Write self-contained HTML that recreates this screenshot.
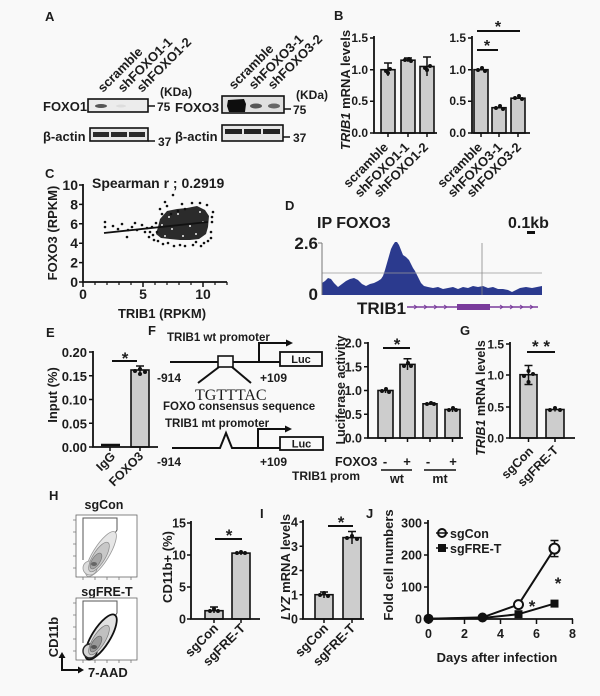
<!DOCTYPE html>
<html><head><meta charset="utf-8">
<style>
html,body{margin:0;padding:0;background:#f9f9f9;}
svg{display:block;}
text{font-family:"Liberation Sans",Arial,sans-serif;font-weight:bold;fill:#1c1c1c;}
.bar{fill:#cdcdcd;stroke:#111;stroke-width:1.6;}
.ax{stroke:#111;stroke-width:1.8;fill:none;}
.eb{stroke:#111;stroke-width:1.5;fill:none;}
.tk{stroke:#111;stroke-width:1.5;}
.thin{stroke:#111;stroke-width:2;fill:none;}
</style></head><body>
<svg width="600" height="696" viewBox="0 0 600 696" xmlns="http://www.w3.org/2000/svg">

<!-- ===== Panel A ===== -->
<text x="45" y="21" font-size="13">A</text>
<g font-size="13">
<text transform="translate(103,93) rotate(-45)">scramble</text>
<text transform="translate(123,93) rotate(-45)">shFOXO1-1</text>
<text transform="translate(142,93) rotate(-45)">shFOXO1-2</text>
<text transform="translate(234,90) rotate(-45)">scramble</text>
<text transform="translate(254,90) rotate(-45)">shFOXO3-1</text>
<text transform="translate(273,90) rotate(-45)">shFOXO3-2</text>
</g>
<text x="160" y="96" font-size="12">(KDa)</text>
<text x="296" y="99" font-size="12">(KDa)</text>
<text x="43" y="111" font-size="13">FOXO1</text>
<rect x="88" y="99" width="60" height="13" fill="#ececec" stroke="#111" stroke-width="1.6"/>
<ellipse cx="101" cy="106" rx="6" ry="2" fill="#555"/>
<ellipse cx="121" cy="106" rx="5" ry="1.5" fill="#ddd"/>
<line x1="148" y1="106" x2="155" y2="106" class="tk"/>
<text x="157" y="111" font-size="12">75</text>
<text x="43" y="141" font-size="13">β-actin</text>
<rect x="90" y="128" width="58" height="13" fill="#e8e8e8" stroke="#111" stroke-width="1.6"/>
<rect x="93" y="132" width="16" height="5" fill="#2a2a2a"/>
<rect x="111" y="132" width="16" height="5" fill="#2a2a2a"/>
<rect x="129" y="132" width="16" height="5" fill="#2a2a2a"/>
<line x1="148" y1="141" x2="155" y2="141" class="tk"/>
<text x="158" y="146" font-size="12">37</text>

<text x="175" y="112" font-size="13">FOXO3</text>
<rect x="222" y="96" width="62" height="17" fill="#e0e0e0" stroke="#111" stroke-width="1.6"/>
<path d="M228,100 L244,99 L246,104 L245,112 L229,112 L227,106 Z" fill="#0e0e0e"/>
<ellipse cx="256" cy="106" rx="6" ry="2.5" fill="#555"/>
<ellipse cx="274" cy="106" rx="6" ry="2.5" fill="#666"/>
<line x1="284" y1="109" x2="291" y2="109" class="tk"/>
<text x="293" y="114" font-size="12">75</text>
<text x="175" y="141" font-size="13">β-actin</text>
<rect x="222" y="125" width="61" height="16" fill="#e6e6e6" stroke="#111" stroke-width="1.6"/>
<rect x="225" y="129" width="17" height="5" fill="#222"/>
<rect x="244" y="129" width="17" height="5" fill="#222"/>
<rect x="263" y="129" width="17" height="5" fill="#222"/>
<line x1="283" y1="137" x2="290" y2="137" class="tk"/>
<text x="293" y="142" font-size="12">37</text>

<!-- ===== Panel B ===== -->
<text x="334" y="20" font-size="13">B</text>
<text transform="translate(350,90) rotate(-90)" text-anchor="middle" font-size="13"><tspan font-style="italic">TRIB1</tspan> mRNA levels</text>
<g font-size="12" text-anchor="end">
<text x="368" y="42">1.5</text><text x="368" y="74">1.0</text><text x="368" y="105">0.5</text><text x="368" y="137">0.0</text>
<text x="466" y="42">1.5</text><text x="466" y="74">1.0</text><text x="466" y="105">0.5</text><text x="466" y="137">0.0</text>
</g>
<rect x="381" y="69.7" width="14" height="63.3" class="bar"/>
<rect x="401" y="60.2" width="14" height="72.8" class="bar"/>
<rect x="420" y="66.5" width="14" height="66.5" class="bar"/>
<path d="M388,63 V76 M384,63 H392 M427,57 V76 M423,57 H431 M408,58 V62 M404,58 H412" class="eb"/>
<g fill="#111"><circle cx="386" cy="71" r="2"/><circle cx="390" cy="69" r="2"/><circle cx="388" cy="73" r="2"/>
<circle cx="405" cy="60" r="2"/><circle cx="409" cy="59" r="2"/><circle cx="411" cy="61" r="2"/>
<circle cx="425" cy="68" r="2"/><circle cx="430" cy="66" r="2"/><circle cx="427" cy="70" r="2"/></g>
<path d="M374,36 V133 H437" class="ax"/>
<path d="M370,38 H374 M370,69.7 H374 M370,101.3 H374 M370,133 H374 M388,133 V137 M408,133 V137 M427,133 V137" class="tk"/>

<rect x="474" y="69.7" width="14" height="63.3" class="bar"/>
<rect x="492" y="107.7" width="14" height="25.3" class="bar"/>
<rect x="511" y="98.2" width="14" height="34.8" class="bar"/>
<g fill="#111"><circle cx="478" cy="70" r="2"/><circle cx="482" cy="68" r="2"/><circle cx="485" cy="71" r="2"/>
<circle cx="496" cy="108" r="2"/><circle cx="500" cy="106" r="2"/><circle cx="503" cy="109" r="2"/>
<circle cx="515" cy="98" r="2"/><circle cx="519" cy="96" r="2"/><circle cx="522" cy="99" r="2"/></g>
<path d="M472,36 V133 H530" class="ax"/>
<path d="M468,38 H472 M468,69.7 H472 M468,101.3 H472 M468,133 H472 M481,133 V137 M499,133 V137 M518,133 V137" class="tk"/>
<path d="M477,50 H498 M477,31 H520" class="thin"/>
<text x="487" y="51" font-size="16" text-anchor="middle">*</text>
<text x="498" y="32" font-size="16" text-anchor="middle">*</text>
<g font-size="13" text-anchor="end">
<text transform="translate(389,148) rotate(-45)">scramble</text>
<text transform="translate(410,148) rotate(-45)">shFOXO1-1</text>
<text transform="translate(429,148) rotate(-45)">shFOXO1-2</text>
<text transform="translate(483,148) rotate(-45)">scramble</text>
<text transform="translate(503,148) rotate(-45)">shFOXO3-1</text>
<text transform="translate(522,148) rotate(-45)">shFOXO3-2</text>
</g>

<!-- ===== Panel C ===== -->
<text x="45" y="178" font-size="13">C</text>
<text x="92" y="188" font-size="14">Spearman r ; 0.2919</text>
<text transform="translate(57,233) rotate(-90)" text-anchor="middle" font-size="13">FOXO3 (RPKM)</text>
<g font-size="14" text-anchor="end">
<text x="78" y="190">10</text><text x="78" y="209.4">8</text><text x="78" y="228.8">6</text><text x="78" y="248.2">4</text><text x="78" y="267.6">2</text><text x="78" y="287">0</text>
</g>
<g font-size="14" text-anchor="middle"><text x="83" y="299">0</text><text x="143" y="299">5</text><text x="203" y="299">10</text></g>
<text x="162" y="318" font-size="13" text-anchor="middle">TRIB1 (RPKM)</text>
<path d="M160,219 L167,211 L177,209 L187,208 L197,206 L205,210 L209,216 L208,227 L206,234 L199,239 L190,240 L180,240 L170,239 L161,238 L156,234 L158,227 Z" fill="#2b2b2b"/>
<g fill="#f0f0f0">
<circle cx="165" cy="236" r="1"/><circle cx="172" cy="229" r="1"/><circle cx="183" cy="236" r="1"/><circle cx="196" cy="234" r="1"/>
<circle cx="203" cy="222" r="1"/><circle cx="178" cy="214" r="1"/><circle cx="162" cy="225" r="1"/><circle cx="190" cy="226" r="1"/>
<circle cx="200" cy="212" r="1"/><circle cx="169" cy="217" r="1"/>
</g>
<g fill="#111">
<circle cx="105" cy="222" r="1.3"/><circle cx="105" cy="227" r="1.3"/><circle cx="113" cy="226" r="1.3"/><circle cx="122" cy="224" r="1.3"/>
<circle cx="128" cy="230" r="1.3"/><circle cx="127" cy="237" r="1.3"/><circle cx="135" cy="223" r="1.3"/><circle cx="137" cy="230" r="1.3"/>
<circle cx="142" cy="225" r="1.3"/><circle cx="147" cy="228" r="1.3"/><circle cx="152" cy="227" r="1.3"/><circle cx="153" cy="235" r="1.3"/>
<circle cx="157" cy="232" r="1.3"/><circle cx="165" cy="202" r="1.3"/><circle cx="173" cy="195" r="1.3"/><circle cx="167" cy="206" r="1.3"/>
<circle cx="178" cy="211" r="1.3"/><circle cx="185" cy="209" r="1.3"/><circle cx="200" cy="203" r="1.3"/><circle cx="207" cy="205" r="1.3"/>
<circle cx="212" cy="222" r="1.3"/><circle cx="211" cy="232" r="1.3"/><circle cx="204" cy="243" r="1.3"/><circle cx="193" cy="245" r="1.3"/>
<circle cx="180" cy="245" r="1.3"/><circle cx="168" cy="243" r="1.3"/><circle cx="158" cy="241" r="1.3"/><circle cx="149" cy="237" r="1.3"/>
<circle cx="150" cy="232" r="1.3"/><circle cx="162" cy="214" r="1.3"/><circle cx="171" cy="214" r="1.3"/><circle cx="192" cy="203" r="1.3"/>
<circle cx="213" cy="212" r="1.3"/><circle cx="211" cy="238" r="1.3"/><circle cx="185" cy="246" r="1.3"/><circle cx="174" cy="246" r="1.3"/>
<circle cx="118" cy="229" r="1.3"/><circle cx="132" cy="227" r="1.3"/><circle cx="145" cy="232" r="1.3"/><circle cx="156" cy="223" r="1.3"/>
<circle cx="160" cy="209" r="1.3"/><circle cx="196" cy="242" r="1.3"/><circle cx="208" cy="241" r="1.3"/><circle cx="212" cy="217" r="1.3"/>
<circle cx="182" cy="204" r="1.3"/><circle cx="154" cy="240" r="1.3"/><circle cx="163" cy="244" r="1.3"/><circle cx="201" cy="246" r="1.3"/>
</g>
<line x1="104" y1="233" x2="208" y2="222" stroke="#111" stroke-width="1.8"/>
<path d="M83,184 V282 H227" class="ax"/>
<path d="M79,185 H83 M79,204.4 H83 M79,223.8 H83 M79,243.2 H83 M79,262.6 H83 M79,282 H83 M83,282 V287 M143,282 V287 M203,282 V287" class="tk"/>
<path d="M95,282 V285 M107,282 V285 M119,282 V285 M131,282 V285 M155,282 V285 M167,282 V285 M179,282 V285 M191,282 V285 M215,282 V285 M227,282 V285" stroke="#111" stroke-width="1.2"/>

<!-- ===== Panel D ===== -->
<text x="285" y="210" font-size="13">D</text>
<text x="317" y="228" font-size="16">IP FOXO3</text>
<text x="508" y="228" font-size="16">0.1kb</text>
<rect x="527" y="231" width="8" height="3" fill="#111"/>
<text x="318" y="249" font-size="17" text-anchor="end">2.6</text>
<text x="318" y="300" font-size="17" text-anchor="end">0</text>
<path d="M322,295 L322,283 L325,281 L328,278 L331,279 L334,283 L338,287 L342,284 L346,281 L350,279 L354,278 L358,280 L362,284 L366,286 L370,284 L374,283 L378,281 L381,279 L383,276 L385,270 L387,263 L389,256 L391,249 L393,245 L395,242 L397,242 L399,245 L401,250 L403,255 L406,257 L409,260 L411,264 L413,268 L415,271 L417,275 L419,279 L421,283 L424,286 L428,287 L433,288 L438,287 L443,289 L448,288 L453,287 L458,289 L463,287 L468,288 L473,286 L478,287 L483,286 L488,288 L493,287 L498,289 L503,289 L508,290 L512,292 L516,290 L520,288 L526,287 L532,288 L537,287 L542,286 L542,295 Z" fill="#2b3a8e"/>
<line x1="322" y1="273" x2="542" y2="273" stroke="#999" stroke-width="0.8"/>
<line x1="482" y1="243" x2="482" y2="295" stroke="#888" stroke-width="0.8"/>
<line x1="322" y1="243" x2="322" y2="295" stroke="#777" stroke-width="1"/>
<line x1="318" y1="243" x2="322" y2="243" stroke="#777" stroke-width="1"/>
<text x="357" y="314" font-size="17">TRIB1</text>
<line x1="407" y1="307" x2="538" y2="307" stroke="#7a3c9c" stroke-width="1.6"/>
<rect x="457" y="304" width="33" height="6" fill="#7a3c9c"/>
<path d="M414,305 L417,307 L414,309 M424,305 L427,307 L424,309 M434,305 L437,307 L434,309 M444,305 L447,307 L444,309 M500,305 L503,307 L500,309 M510,305 L513,307 L510,309 M520,305 L523,307 L520,309 M530,305 L533,307 L530,309" stroke="#7a3c9c" stroke-width="1" fill="none"/>

<!-- ===== Panel E ===== -->
<text x="46" y="337" font-size="13">E</text>
<text transform="translate(57,395) rotate(-90)" text-anchor="middle" font-size="13">Input (%)</text>
<g font-size="13" text-anchor="end">
<text x="87" y="357">0.20</text><text x="87" y="380.8">0.15</text><text x="87" y="404.5">0.10</text><text x="87" y="428.3">0.05</text><text x="87" y="452">0.00</text>
</g>
<rect x="131" y="370" width="18" height="77" class="bar"/>
<path d="M140,366 V374 M136,366 H144" class="eb"/>
<g fill="#111"><circle cx="135" cy="371" r="2"/><circle cx="140" cy="369" r="2"/><circle cx="145" cy="372" r="2"/><circle cx="140" cy="374" r="2"/></g>
<path d="M101,445 H120" stroke="#111" stroke-width="2.5"/>
<path d="M93,351 V447 H158" class="ax"/>
<path d="M89,352 H93 M89,375.8 H93 M89,399.5 H93 M89,423.3 H93 M89,447 H93 M110,447 V451 M140,447 V451" class="tk"/>
<path d="M112,361 H137" class="thin"/>
<text x="125" y="364" font-size="17" text-anchor="middle">*</text>
<g font-size="12.5" text-anchor="end">
<text transform="translate(116,457) rotate(-45)">IgG</text>
<text transform="translate(144,457) rotate(-45)">FOXO3</text>
</g>

<!-- ===== Panel F ===== -->
<text x="148" y="335" font-size="13">F</text>
<text x="167" y="341" font-size="11.5">TRIB1 wt promoter</text>
<path d="M170,362 H280" class="thin"/>
<rect x="218" y="356" width="15" height="11" fill="#f9f9f9" stroke="#111" stroke-width="1.6"/>
<path d="M259,362 V343 H287" class="thin"/>
<path d="M286,339.5 L293,343 L286,346.5 Z" fill="#111"/>
<rect x="280" y="352" width="42" height="14" fill="#f9f9f9" stroke="#111" stroke-width="1.8"/>
<text x="301" y="363" font-size="11" text-anchor="middle">Luc</text>
<text x="157" y="382" font-size="12">-914</text>
<text x="260" y="382" font-size="12">+109</text>
<path d="M219,367 L198,383 M232,367 L251,383" class="thin"/>
<text x="195" y="400" font-size="16" style="font-family:'Liberation Serif',serif;font-weight:normal">TGTTTAC</text>
<text x="163" y="410" font-size="11.5">FOXO consensus sequence</text>
<text x="165" y="427" font-size="11.5">TRIB1 mt promoter</text>
<path d="M172,448 H220 L226,433 L232,448 H280" class="thin"/>
<path d="M258,448 V429 H286" class="thin"/>
<path d="M285,425.5 L292,429 L285,432.5 Z" fill="#111"/>
<rect x="280" y="437" width="43" height="13" fill="#f9f9f9" stroke="#111" stroke-width="1.8"/>
<text x="301.5" y="447.5" font-size="11" text-anchor="middle">Luc</text>
<text x="157" y="466" font-size="12">-914</text>
<text x="260" y="466" font-size="12">+109</text>

<!-- luciferase chart -->
<text transform="translate(345,390) rotate(-90)" text-anchor="middle" font-size="12.5">Luciferase activity</text>
<g font-size="12.5" text-anchor="end">
<text x="362" y="347.5">2.0</text><text x="362" y="371.3">1.5</text><text x="362" y="395">1.0</text><text x="362" y="418.8">0.5</text><text x="362" y="442.5">0.0</text>
</g>
<rect x="378" y="390.5" width="15" height="47.5" class="bar"/>
<rect x="400" y="364.4" width="15" height="73.6" class="bar"/>
<rect x="423" y="403.8" width="14" height="34.2" class="bar"/>
<rect x="445" y="409.5" width="15" height="28.5" class="bar"/>
<path d="M407.5,358.7 V370 M403.5,358.7 H411.5 M385.5,388 V393 M430,402 V405 M452.5,406.5 V412" class="eb"/>
<g fill="#111"><circle cx="382" cy="391" r="2"/><circle cx="386" cy="389" r="2"/><circle cx="389" cy="392" r="2"/>
<circle cx="404" cy="366" r="2"/><circle cx="408" cy="363" r="2"/><circle cx="411" cy="366" r="2"/>
<circle cx="427" cy="404" r="2"/><circle cx="431" cy="403" r="2"/><circle cx="434" cy="404" r="2"/>
<circle cx="449" cy="410" r="2"/><circle cx="453" cy="408" r="2"/><circle cx="456" cy="410" r="2"/></g>
<path d="M368,342 V438 H463" class="ax"/>
<path d="M364,343 H368 M364,366.8 H368 M364,390.5 H368 M364,414.3 H368 M364,438 H368 M385.5,438 V442 M407.5,438 V442 M430,438 V442 M452.5,438 V442" class="tk"/>
<path d="M383,348 H410" class="thin"/>
<text x="397" y="350" font-size="17" text-anchor="middle">*</text>
<text x="335" y="466" font-size="12.5">FOXO3</text>
<g font-size="13" text-anchor="middle"><text x="385" y="466">-</text><text x="407" y="466">+</text><text x="428" y="466">-</text><text x="453" y="466">+</text></g>
<path d="M381,470 H412 M424,470 H456" stroke="#111" stroke-width="1.5"/>
<text x="292" y="480" font-size="12">TRIB1 prom</text>
<text x="397" y="483" font-size="12.5" text-anchor="middle">wt</text>
<text x="440" y="483" font-size="12.5" text-anchor="middle">mt</text>

<!-- ===== Panel G ===== -->
<text x="460" y="335" font-size="13">G</text>
<text transform="translate(485,398) rotate(-90)" text-anchor="middle" font-size="12.5"><tspan font-style="italic">TRIB1</tspan> mRNA levels</text>
<g font-size="12" text-anchor="end">
<text x="504" y="348.5">1.5</text><text x="504" y="379.5">1.0</text><text x="504" y="411.5">0.5</text><text x="504" y="442.5">0.0</text>
</g>
<rect x="520" y="374.7" width="17" height="63.3" class="bar"/>
<rect x="546" y="409.5" width="18" height="28.5" class="bar"/>
<path d="M528.5,365.5 V384.5 M524.5,365.5 H532.5 M524.5,384.5 H532.5 M555,407.5 V411.5" class="eb"/>
<g fill="#111"><circle cx="524" cy="376" r="2"/><circle cx="528.5" cy="371" r="2"/><circle cx="533" cy="374" r="2"/><circle cx="528.5" cy="382" r="2"/>
<circle cx="550" cy="410" r="2"/><circle cx="555" cy="408" r="2"/><circle cx="560" cy="410" r="2"/></g>
<path d="M510,342 V438 H575" class="ax"/>
<path d="M506,344 H510 M506,375 H510 M506,407 H510 M506,438 H510 M528.5,438 V442 M555,438 V442" class="tk"/>
<path d="M527,352 H555" class="thin"/>
<text x="541" y="352" font-size="17" text-anchor="middle">* *</text>
<g font-size="12.5" text-anchor="end">
<text transform="translate(534,452) rotate(-45)">sgCon</text>
<text transform="translate(559,451) rotate(-45)">sgFRE-T</text>
</g>

<!-- ===== Panel H ===== -->
<text x="49" y="500" font-size="13">H</text>
<text x="104" y="509" font-size="12.5" text-anchor="middle">sgCon</text>
<text x="107" y="596" font-size="12.5" text-anchor="middle">sgFRE-T</text>
<g>
<rect x="76" y="515" width="61" height="62" fill="#fff" stroke="#666" stroke-width="0.8"/>
<path d="M73,520 H76 M73,532 H76 M73,544 H76 M73,556 H76 M73,568 H76 M83,577 V580 M95,577 V580 M107,577 V580 M119,577 V580 M131,577 V580" stroke="#777" stroke-width="0.8"/>
<polyline points="83,560 83,518 117,518 117,530 104,550" fill="none" stroke="#555" stroke-width="1"/>
<ellipse cx="101" cy="554" rx="26" ry="8" transform="rotate(-58 101 554)" fill="#e6e6e6" stroke="#999" stroke-width="0.8"/>
<ellipse cx="90" cy="568" rx="7" ry="7" fill="#dcdcdc" stroke="#999" stroke-width="0.8"/>
<ellipse cx="99" cy="557" rx="17" ry="6" transform="rotate(-58 99 557)" fill="#c8c8c8" stroke="#888" stroke-width="0.7"/>
<ellipse cx="96" cy="561" rx="9" ry="4" transform="rotate(-58 96 561)" fill="#a5a5a5" stroke="#777" stroke-width="0.7"/>
<ellipse cx="94" cy="564" rx="3" ry="2" fill="#666"/>
</g>
<g>
<rect x="76" y="598" width="61" height="62" fill="#fff" stroke="#666" stroke-width="0.8"/>
<path d="M73,603 H76 M73,615 H76 M73,627 H76 M73,639 H76 M73,651 H76 M83,660 V663 M95,660 V663 M107,660 V663 M119,660 V663 M131,660 V663" stroke="#777" stroke-width="0.8"/>
<polyline points="83,643 83,601 117,601 117,613 104,633" fill="none" stroke="#555" stroke-width="1"/>
<ellipse cx="101" cy="637" rx="26" ry="9" transform="rotate(-58 101 637)" fill="#e2e2e2" stroke="#111" stroke-width="1.8"/>
<ellipse cx="90" cy="651" rx="7" ry="7" fill="#d5d5d5" stroke="#222" stroke-width="1.4"/>
<ellipse cx="99" cy="640" rx="17" ry="6" transform="rotate(-58 99 640)" fill="#c0c0c0" stroke="#777" stroke-width="0.7"/>
<ellipse cx="96" cy="644" rx="9" ry="4" transform="rotate(-58 96 644)" fill="#999" stroke="#666" stroke-width="0.7"/>
<ellipse cx="94" cy="647" rx="3" ry="2" fill="#555"/>
</g>
<text transform="translate(58,637) rotate(-90)" text-anchor="middle" font-size="13">CD11b</text>
<path d="M62,657 V670 H79" stroke="#111" stroke-width="2" fill="none"/>
<path d="M58.5,658 L62,652 L65.5,658 Z M78,666.5 L84,670 L78,673.5 Z" fill="#111"/>
<text x="88" y="677" font-size="13">7-AAD</text>

<!-- CD11b chart -->
<text transform="translate(172,567) rotate(-90)" text-anchor="middle" font-size="13">CD11b+ (%)</text>
<g font-size="12.5" text-anchor="end">
<text x="186" y="527.5">15</text><text x="186" y="559.5">10</text><text x="186" y="591.5">5</text><text x="186" y="623.5">0</text>
</g>
<rect x="205" y="610.7" width="18" height="8.3" class="bar"/>
<rect x="232" y="553.1" width="18" height="65.9" class="bar"/>
<path d="M214,607 V613 M210,607 H218 M241,551 V555" class="eb"/>
<g fill="#111"><circle cx="210" cy="611" r="2"/><circle cx="214" cy="609" r="2"/><circle cx="218" cy="611" r="2"/>
<circle cx="237" cy="553" r="2"/><circle cx="241" cy="552" r="2"/><circle cx="245" cy="553" r="2"/></g>
<path d="M191,521 V619 H260" class="ax"/>
<path d="M187,523 H191 M187,555 H191 M187,587 H191 M187,619 H191 M214,619 V623 M241,619 V623" class="tk"/>
<path d="M215,539 H242" class="thin"/>
<text x="229" y="541" font-size="17" text-anchor="middle">*</text>
<g font-size="13" text-anchor="end">
<text transform="translate(219,629) rotate(-45)">sgCon</text>
<text transform="translate(246,629) rotate(-45)">sgFRE-T</text>
</g>

<!-- ===== Panel I ===== -->
<text x="260" y="518" font-size="13">I</text>
<text transform="translate(290,567) rotate(-90)" text-anchor="middle" font-size="13"><tspan font-style="italic">LYZ</tspan> mRNA levels</text>
<g font-size="12.5" text-anchor="end">
<text x="298" y="526.5">4</text><text x="298" y="550.8">3</text><text x="298" y="575">2</text><text x="298" y="599.3">1</text><text x="298" y="623.5">0</text>
</g>
<rect x="315" y="594.7" width="18" height="24.3" class="bar"/>
<rect x="343" y="537.6" width="18" height="81.4" class="bar"/>
<path d="M324,592 V598 M320,592 H328 M352,531.5 V544 M348,531.5 H356" class="eb"/>
<g fill="#111"><circle cx="320" cy="595" r="2"/><circle cx="324" cy="593" r="2"/><circle cx="328" cy="596" r="2"/>
<circle cx="347" cy="538" r="2"/><circle cx="352" cy="536" r="2"/><circle cx="357" cy="539" r="2"/></g>
<path d="M303,520 V619 H364" class="ax"/>
<path d="M299.5,522 H303 M299.5,546.3 H303 M299.5,570.5 H303 M299.5,594.7 H303 M299.5,619 H303 M324,619 V623 M352,619 V623" class="tk"/>
<path d="M328,526 H353" class="thin"/>
<text x="341" y="528" font-size="17" text-anchor="middle">*</text>
<g font-size="13" text-anchor="end">
<text transform="translate(329,629) rotate(-45)">sgCon</text>
<text transform="translate(356,629) rotate(-45)">sgFRE-T</text>
</g>

<!-- ===== Panel J ===== -->
<text x="366" y="518" font-size="13">J</text>
<text transform="translate(393,565) rotate(-90)" text-anchor="middle" font-size="13">Fold cell numbers</text>
<g font-size="12.5" text-anchor="end">
<text x="422" y="527.5">300</text><text x="422" y="559.5">200</text><text x="422" y="591.5">100</text><text x="422" y="623.5">0</text>
</g>
<g font-size="12.5" text-anchor="middle">
<text x="428.5" y="638">0</text><text x="464.5" y="638">2</text><text x="500.5" y="638">4</text><text x="536.5" y="638">6</text><text x="572.5" y="638">8</text>
</g>
<text x="497" y="662" font-size="13" text-anchor="middle">Days after infection</text>
<path d="M428,520 V619 H573" class="ax"/>
<path d="M424,523 H428 M424,555 H428 M424,587 H428 M424,619 H428 M428.5,619 V624 M464.5,619 V624 M500.5,619 V624 M536.5,619 V624 M572.5,619 V624" class="tk"/>
<polyline points="428.5,618.7 482.5,617.4 518.5,604.6 554.5,548.6" fill="none" stroke="#111" stroke-width="2"/>
<polyline points="428.5,618.7 482.5,618 518.5,614.2 554.5,603.6" fill="none" stroke="#111" stroke-width="2"/>
<path d="M554.5,540.5 V556.6 M550.5,540.5 H558.5 M550.5,556.6 H558.5" class="eb"/>
<circle cx="428.5" cy="618.7" r="5" fill="#111"/>
<circle cx="482.5" cy="617.5" r="5" fill="#111"/>
<rect x="514.5" y="610.2" width="8" height="8" fill="#111"/>
<circle cx="518.5" cy="604.6" r="4.5" fill="#fafafa" stroke="#111" stroke-width="2"/>
<rect x="550.5" y="599.6" width="8" height="8" fill="#111"/>
<circle cx="554.5" cy="548.6" r="5" fill="#fafafa" stroke="#111" stroke-width="2"/>
<text x="532" y="612" font-size="17" text-anchor="middle">*</text>
<text x="558" y="589" font-size="17" text-anchor="middle">*</text>
<circle cx="442" cy="533" r="4" fill="#fafafa" stroke="#111" stroke-width="2"/>
<line x1="436" y1="533" x2="448" y2="533" stroke="#111" stroke-width="1.5"/>
<text x="450" y="538" font-size="12.5">sgCon</text>
<rect x="438" y="544" width="8" height="8" fill="#111"/>
<line x1="436" y1="548" x2="448" y2="548" stroke="#111" stroke-width="1.5"/>
<text x="450" y="553" font-size="12.5">sgFRE-T</text>

</svg>
</body></html>
